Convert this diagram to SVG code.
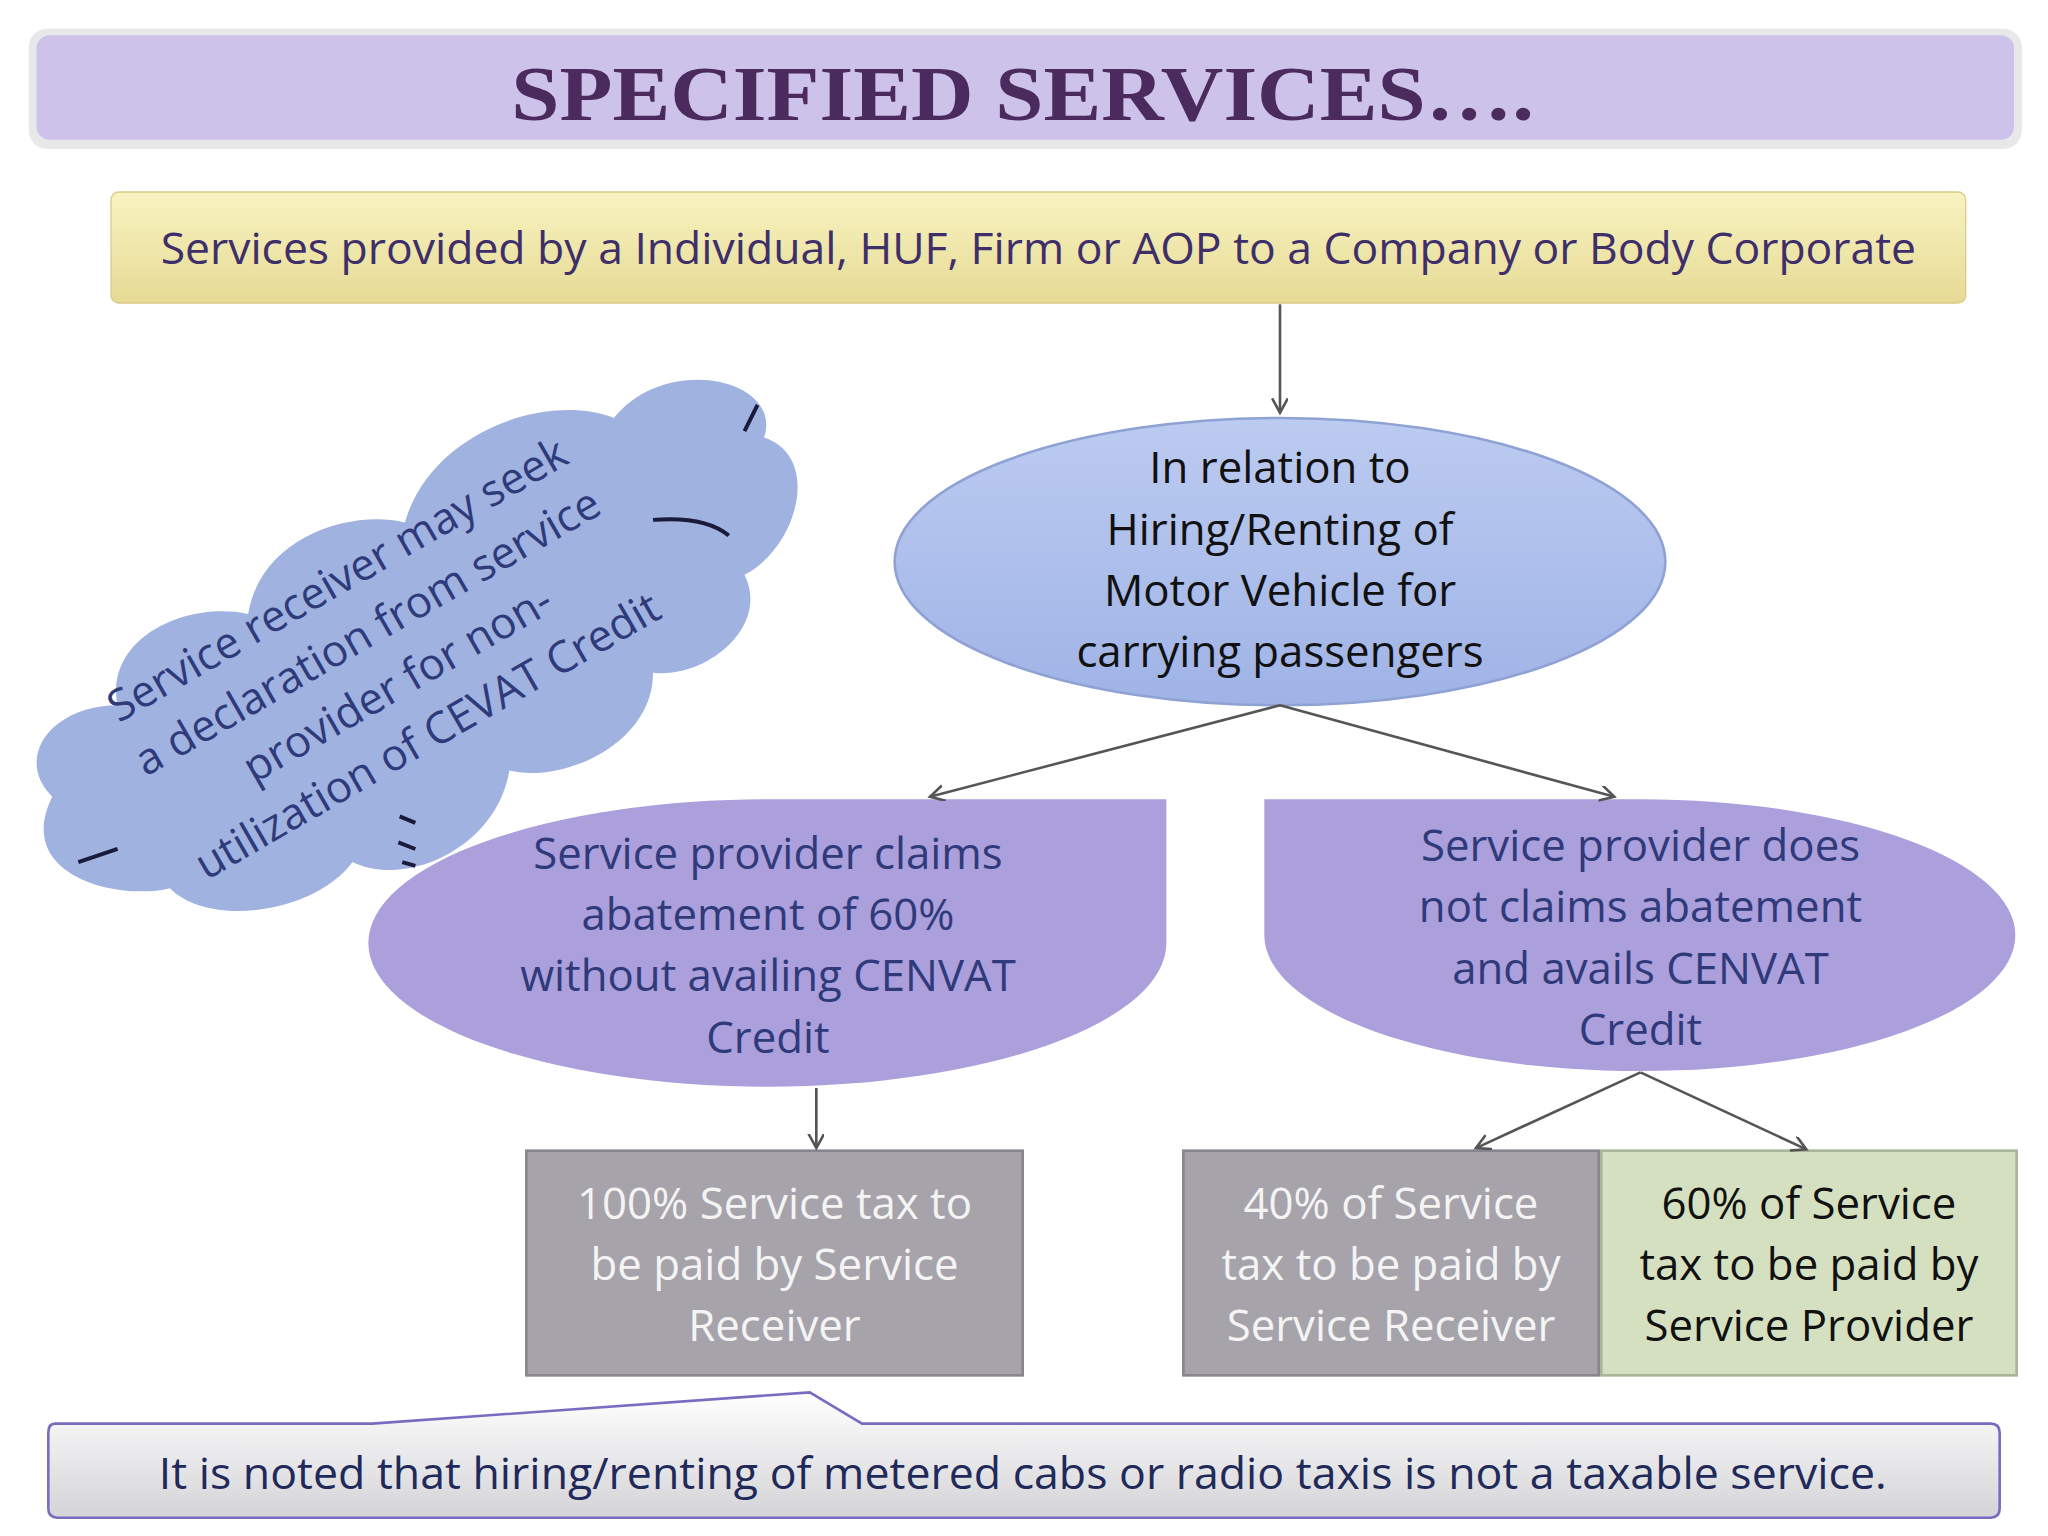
<svg xmlns="http://www.w3.org/2000/svg" width="2048" height="1536" viewBox="0 0 2048 1536">
<defs>
<style>
.t{font-family:"Open Sans","DejaVu Sans",sans-serif;font-size:33.5px;text-anchor:middle}
.ln{stroke:#555;stroke-width:2;fill:none;marker-end:url(#ah)}
</style>
<marker id="ah" markerWidth="14" markerHeight="14" refX="11" refY="6" orient="auto" markerUnits="userSpaceOnUse"><path d="M0,0 L11,6 L0,12" fill="none" stroke="#555" stroke-width="2"/></marker>
<linearGradient id="yg" x1="0" y1="0" x2="0" y2="1"><stop offset="0" stop-color="#f8f3c0"/><stop offset="1" stop-color="#e6da95"/></linearGradient>
<linearGradient id="bg" x1="0" y1="0" x2="0" y2="1"><stop offset="0" stop-color="#ffffff"/><stop offset="1" stop-color="#d4d4d8"/></linearGradient>
<linearGradient id="eg" x1="0" y1="0" x2="0" y2="1"><stop offset="0" stop-color="#bccbf0"/><stop offset="1" stop-color="#9fb3e6"/></linearGradient>
</defs>
<rect width="2048" height="1536" fill="#fff"/>
<g transform="scale(1.30612)">
<g id="title"><rect x="22" y="22" width="1526" height="92" rx="14" fill="#e8e8ea"/><rect x="28" y="27" width="1514" height="80" rx="10" fill="#cdc3ea"/>
<text x="783" y="92" font-family="'Liberation Serif',serif" font-weight="bold" font-size="60" fill="#4b2a5e" text-anchor="middle" textLength="783" lengthAdjust="spacingAndGlyphs">SPECIFIED SERVICES….</text></g>
<g id="top"><rect x="85" y="147" width="1420" height="85" rx="6" fill="url(#yg)" stroke="#d8cc88"/>
<text class="t" x="795" y="202" fill="#3e2f6a" textLength="1344" lengthAdjust="spacingAndGlyphs">Services provided by a Individual, HUF, Firm or AOP to a Company or Body Corporate</text></g>
<g id="oval"><ellipse cx="980" cy="430" rx="295" ry="110" fill="url(#eg)" stroke="#8fa2d4" stroke-width="2"/>
<text class="t" fill="#111"><tspan x="980" y="370">In relation to</tspan><tspan x="980" y="417">Hiring/Renting of</tspan><tspan x="980" y="464">Motor Vehicle for</tspan><tspan x="980" y="511">carrying passengers</tspan></text></g>
<g id="left"><path d="M588,612 L893,612 L893,722 A306,110 0 0 1 588,832 A306,110 0 0 1 282,722 A306,110 0 0 1 588,612 Z" fill="#ab9fdc"/>
<text class="t" fill="#2f3a7a"><tspan x="588" y="665">Service provider claims</tspan><tspan x="588" y="712">abatement of 60%</tspan><tspan x="588" y="759">without availing CENVAT</tspan><tspan x="588" y="806">Credit</tspan></text></g>
<g id="right"><path d="M968,612 L1256,612 A287,104 0 0 1 1543,716 A287,104 0 0 1 1256,820 A287,104 0 0 1 968,716 Z" fill="#ab9fdc"/>
<text class="t" fill="#2f3a7a"><tspan x="1256" y="659">Service provider does</tspan><tspan x="1256" y="706">not claims abatement</tspan><tspan x="1256" y="753">and avails CENVAT</tspan><tspan x="1256" y="800">Credit</tspan></text></g>
<g id="b1"><rect x="403" y="881" width="380" height="172" fill="#a6a3ab" stroke="#88868c" stroke-width="2"/>
<text class="t" fill="#f4f4f4"><tspan x="593" y="933">100% Service tax to</tspan><tspan x="593" y="980">be paid by Service</tspan><tspan x="593" y="1027">Receiver</tspan></text></g>
<g id="b2"><rect x="906" y="881" width="318" height="172" fill="#a6a3ab" stroke="#88868c" stroke-width="2"/>
<text class="t" fill="#f4f4f4"><tspan x="1065" y="933">40% of Service</tspan><tspan x="1065" y="980">tax to be paid by</tspan><tspan x="1065" y="1027">Service Receiver</tspan></text></g>
<g id="b3"><rect x="1226" y="881" width="318" height="172" fill="#d5e0c0" stroke="#a9b598" stroke-width="2"/>
<text class="t" fill="#111"><tspan x="1385" y="933">60% of Service</tspan><tspan x="1385" y="980">tax to be paid by</tspan><tspan x="1385" y="1027">Service Provider</tspan></text></g>
<g id="cloud"><path d="M40,610 C10,580 40,540 90,540 C80,490 140,460 190,470 C200,410 270,390 310,400 C330,330 420,300 470,320 C510,270 600,290 585,335 C630,350 610,420 570,440 C590,480 540,520 500,515 C500,570 430,600 390,590 C380,650 310,680 270,660 C240,700 160,710 130,680 C90,690 10,670 40,610 Z" fill="#9fb2e0"/>
<path d="M570,330 L580,310 M500,398 Q540,395 558,410 M60,660 L90,650 M306,625 L318,630 M305,645 L318,650 M308,660 L318,663" stroke="#1a1a3a" stroke-width="3" fill="none"/>
<g transform="translate(293,504) rotate(-30)"><text class="t" fill="#2f3a7a" font-size="32"><tspan x="0" y="-58">Service receiver may seek</tspan><tspan x="0" y="-12">a declaration from service</tspan><tspan x="0" y="34">provider for non-</tspan><tspan x="0" y="80">utilization of CEVAT Credit</tspan></text></g></g>
<g id="note"><path d="M42,1090 L285,1090 L620,1066 L660,1090 L1524,1090 Q1531,1090 1531,1097 L1531,1155 Q1531,1162 1524,1162 L44,1162 Q37,1162 37,1155 L37,1097 Q37,1090 42,1090 Z" fill="url(#bg)" stroke="#7b6bc0" stroke-width="2"/>
<text class="t" x="783" y="1140" fill="#1f2a5a" textLength="1323" lengthAdjust="spacingAndGlyphs">It is noted that hiring/renting of metered cabs or radio taxis is not a taxable service.</text></g>
<g id="connectors">
<line class="ln" x1="980" y1="233" x2="980" y2="316"/>
<line class="ln" x1="980" y1="540" x2="712" y2="610"/>
<line class="ln" x1="980" y1="540" x2="1236" y2="610"/>
<line class="ln" x1="625" y1="833" x2="625" y2="879"/>
<line class="ln" x1="1256" y1="821" x2="1130" y2="879"/>
<line class="ln" x1="1256" y1="821" x2="1383" y2="880"/>
</g>
</g>
</svg>
